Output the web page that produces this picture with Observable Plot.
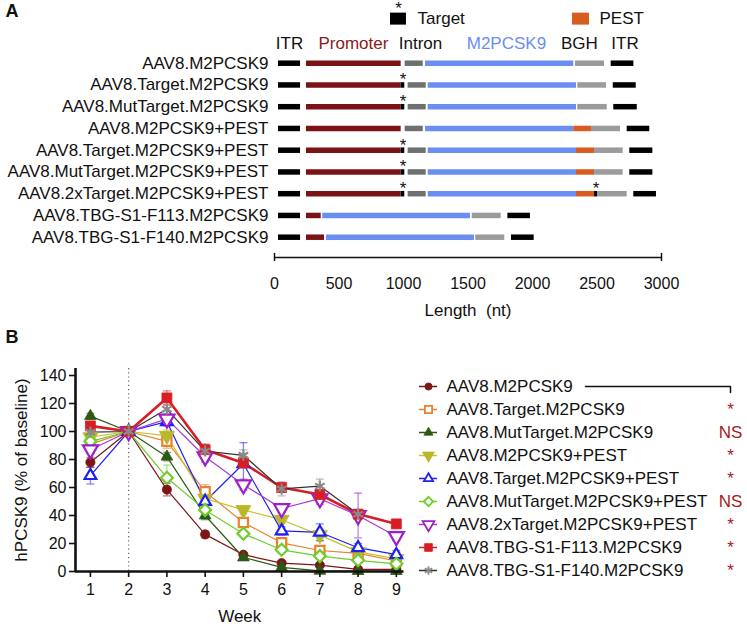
<!DOCTYPE html>
<html><head><meta charset="utf-8">
<script src="https://cdn.jsdelivr.net/npm/d3@7"></script>
<script src="https://cdn.jsdelivr.net/npm/@observablehq/plot@0.6"></script>
<style>
body{margin:0;background:#fff;}
#wrap{position:relative;width:747px;height:630px;overflow:hidden;background:#fff;}
#wrap > *{position:absolute;margin:0;}
#wrap g[aria-label="x-axis tick label"] text,
#wrap g[aria-label="y-axis tick label"] text{font-size:16px !important;}
</style></head><body><div id="wrap"></div>
<script>
const FONT = '"Liberation Sans", Arial, Helvetica, sans-serif';

// ---------- Panel A data ----------
const constructs = [
  "AAV8.M2PCSK9","AAV8.Target.M2PCSK9","AAV8.MutTarget.M2PCSK9",
  "AAV8.M2PCSK9+PEST","AAV8.Target.M2PCSK9+PEST","AAV8.MutTarget.M2PCSK9+PEST",
  "AAV8.2xTarget.M2PCSK9+PEST","AAV8.TBG-S1-F113.M2PCSK9","AAV8.TBG-S1-F140.M2PCSK9"
];
const parts = ["ITR","Promoter","Intron","M2PCSK9","BGH","PEST","Target"];
const partColors = ["#000000","#7a1216","#6f6f6f","#6b8ef3","#9b9b9d","#d85b20","#000000"];
// [construct index, element, start nt, end nt]
const segments = [
  [0,"ITR",31,202],[0,"Promoter",248,982],[0,"Intron",1013,1153],[0,"M2PCSK9",1171,2320],[0,"BGH",2333,2558],[0,"ITR",2610,2786],
  [1,"ITR",31,202],[1,"Promoter",248,982],[1,"Target",982,1010],[1,"Intron",1036,1176],[1,"M2PCSK9",1191,2341],[1,"BGH",2351,2574],[1,"ITR",2626,2804],
  [2,"ITR",31,202],[2,"Promoter",248,982],[2,"Target",982,1010],[2,"Intron",1036,1176],[2,"M2PCSK9",1191,2341],[2,"BGH",2351,2579],[2,"ITR",2630,2812],
  [3,"ITR",31,202],[3,"Promoter",248,982],[3,"Intron",1013,1153],[3,"M2PCSK9",1171,2320],[3,"PEST",2320,2457],[3,"BGH",2457,2682],[3,"ITR",2734,2909],
  [4,"ITR",31,202],[4,"Promoter",248,982],[4,"Target",982,1010],[4,"Intron",1036,1176],[4,"M2PCSK9",1191,2341],[4,"PEST",2341,2481],[4,"BGH",2481,2703],[4,"ITR",2754,2933],
  [5,"ITR",31,202],[5,"Promoter",248,982],[5,"Target",982,1010],[5,"Intron",1036,1176],[5,"M2PCSK9",1191,2341],[5,"PEST",2341,2481],[5,"BGH",2481,2703],[5,"ITR",2754,2933],
  [6,"ITR",31,202],[6,"Promoter",248,982],[6,"Target",982,1010],[6,"Intron",1036,1176],[6,"M2PCSK9",1191,2341],[6,"PEST",2341,2481],[6,"Target",2481,2504],[6,"BGH",2504,2734],[6,"ITR",2785,2961],
  [7,"ITR",31,202],[7,"Promoter",248,362],[7,"M2PCSK9",374,1519],[7,"BGH",1533,1757],[7,"ITR",1809,1984],
  [8,"ITR",31,202],[8,"Promoter",248,388],[8,"M2PCSK9",403,1550],[8,"BGH",1560,1785],[8,"ITR",1837,2013]
];
const lengthTicks = [0,500,1000,1500,2000,2500,3000];

// ---------- Panel B data ----------
const weeks = [1,2,3,4,5,6,7,8,9];
const seriesNames = [
  "AAV8.M2PCSK9","AAV8.Target.M2PCSK9","AAV8.MutTarget.M2PCSK9","AAV8.M2PCSK9+PEST",
  "AAV8.Target.M2PCSK9+PEST","AAV8.MutTarget.M2PCSK9+PEST","AAV8.2xTarget.M2PCSK9+PEST",
  "AAV8.TBG-S1-F113.M2PCSK9","AAV8.TBG-S1-F140.M2PCSK9"
];
const vM2       = [78, 100, 58.5, 26.5, 12, 6, 4.5, 1.5, 1.5];
const vTarget   = [91, 100, 93, 57, 35, 20.5, 15, 13, 7.5];
const vMut      = [111, 100, 82, 40, 10, 3, 0.5, 0.3, 0.3];
const vPest     = [96, 100, 97, 52, 44, 37, 26, 14, 9];
const vTgtPest  = [68.5, 100, 107, 50, 77, 29, 28, 17, 12];
const vMutPest  = [93, 100, 67, 44, 27, 15.5, 11, 8, 5.5];
const v2xPest   = [87, 100, 109, 82, 62, 45, 52, 40, 25];
const vF113     = [104, 100, 124, 87, 77.5, 60, 55, 41, 34];
const vF140     = [99.5, 100, 116, 86, 83, 59, 61, 41, null];
const eM2       = [3.5, 0, 4.5, 2.5, 1.5, 1, 1, 0.5, 0.5];
const eTarget   = [3, 0, 5, 5, 3, 3, 2, 2, 2];
const eMut      = [2, 0, 3, 3, 1, 0.5, 0.3, 0.2, 0.2];
const ePest     = [3, 0, 4, 4, 3, 3, 4, 2, 2];
const eTgtPest  = [6, 0, 3, 5, 15, 3, 6, 3, 3];
const eMutPest  = [3, 0, 9, 3, 2, 2, 2, 2, 1];
const e2xPest   = [3, 0, 3, 4, 4, 3, 4, 16, 3];
const eF113     = [2, 0, 5, 4, 3, 3, 3, 3, 2];
const eF140     = [2, 0, 3, 3, 4, 5, 5, 3, null];
const significance = ["", "*", "NS", "*", "*", "NS", "*", "*", "*"];
const weekTicks = [1,2,3,4,5,6,7,8,9];
const pctTicks = [0,20,40,60,80,100,120,140];

const values = [vM2,vTarget,vMut,vPest,vTgtPest,vMutPest,v2xPest,vF113,vF140];
const errors = [eM2,eTarget,eMut,ePest,eTgtPest,eMutPest,e2xPest,eF113,eF140];

// styles
const sColors = ["#7d1517","#e8822e","#2c5a14","#b8b82a","#2020f0","#6fcd2b","#a020c8","#d81e24","#8a8a8a"];
const lColors = ["#7d1517","#e8822e","#2c5a14","#c4c42e","#2020f0","#6fcd2b","#a83ad0","#d81e24","#333333"];
const triDown = {draw(ctx, size){ const y = -Math.sqrt(size/(Math.sqrt(3)*3)); ctx.moveTo(0,-y*2); ctx.lineTo(-Math.sqrt(3)*y, y); ctx.lineTo(Math.sqrt(3)*y, y); ctx.closePath(); }};
const capSym = {draw(ctx){ ctx.moveTo(-4,0); ctx.lineTo(4,0); }};
const symbols = ["circle","square","triangle2",triDown,"triangle2","diamond2",triDown,"square","asterisk"];
const filled = [true,false,true,true,false,false,false,true,true];
const radii = [4.6,5.2,5.6,5.6,5.6,5.4,5.6,5.6,5.2];

// ---------- Build panel A ----------
const segData = segments.map(([r,p,s,e]) => ({row:r, part:p, start:s, end:e}));
const stars = segData.filter(d => d.part === "Target").map(d => ({row:d.row, x:(d.start+d.end)/2}));

const plotA = Plot.plot({
  width: 747, height: 320,
  marginLeft: 274, marginRight: 86, marginTop: 0, marginBottom: 63,
  style: {fontFamily: FONT, fontSize: "17px", color: "#111", background: "transparent", overflow: "visible"},
  x: {domain: [0, 3000]},
  y: {domain: [0, 8], range: [62.7, 236.7], axis: null},
  color: {domain: parts, range: partColors},
  marks: [
    Plot.ruleY(segData, {y: "row", x1: "start", x2: "end", stroke: "part", strokeWidth: 5.5}),
    Plot.text(stars, {x: "x", y: "row", text: () => "*", dy: -5, fontSize: 17, fill: "#111"}),
    Plot.text(constructs, {y: (d, i) => i, frameAnchor: "left", textAnchor: "end", dx: -6, fontSize: 17, fill: "#111"}),
    Plot.axisX({ticks: lengthTicks, tickFormat: d => String(d), tickSize: 0, tickPadding: 20, fontSize: 16, label: null}),
    Plot.ruleY([8.93], {x1: 0, x2: 3000, strokeWidth: 1.5, stroke: "#111"}),
    Plot.ruleX([0, 3000], {y1: 8.746, y2: 9.114, strokeWidth: 1.5, stroke: "#111"}),
    Plot.text(["Length\u00a0 (nt)"], {x: 1500, y: 11.37, fontSize: 17, fill: "#111"}),
    // header element labels
    Plot.text([
      {t:"ITR", x:116, c:"#111", w:"normal"},
      {t:"Promoter", x:612, c:"#8b1a1a", w:"normal"},
      {t:"Intron", x:1132, c:"#111", w:"normal"},
      {t:"M2PCSK9", x:1798, c:"#6b8ef3", w:"bold"},
      {t:"BGH", x:2364, c:"#111", w:"normal"},
      {t:"ITR", x:2717, c:"#111", w:"normal"}
    ], {x: "x", y: () => -0.9, text: "t", fill: "c", fontWeight: "w", fontSize: 17}),
    // top legend
    Plot.ruleY([{y:-2.05, x1:899, x2:1023, c:"#000"}, {y:-2.05, x1:2310, x2:2442, c:"#d85b20"}], {y:"y", x1:"x1", x2:"x2", stroke:"c", strokeWidth: 12}),
    Plot.text(["*"], {x: () => 961, y: () => -2.05, dy: -10, fontSize: 17, fill: "#111"}),
    Plot.text([{t:"Target", x:1109}, {t:"PEST", x:2519}], {x:"x", y: () => -2.05, text:"t", textAnchor:"start", fontSize: 17, fill:"#111"}),
    Plot.text(["A"], {frameAnchor: "top-left", dx: -269, dy: 4, textAnchor: "start", lineAnchor: "top", fontWeight: "bold", fontSize: 18, fill: "#111"})
  ]
});
plotA.style.left = "0px"; plotA.style.top = "0px";
document.getElementById("wrap").appendChild(plotA);

// ---------- Build panel B ----------
const tbl = [];
seriesNames.forEach((name, si) => weeks.forEach((w, wi) => {
  const v = values[si][wi];
  if (v != null) tbl.push({name, si, week: w, v, e: errors[si][wi] || 0});
}));
const errTbl = tbl.filter(d => d.e > 0);

const marksB = [
  Plot.ruleX([2], {stroke: "#666", strokeDasharray: "1.2,3", strokeWidth: 1.2}),
  Plot.ruleX(errTbl, {x: "week", y1: d => d.v - d.e, y2: d => d.v + d.e, stroke: d => sColors[d.si], strokeOpacity: 0.55, strokeWidth: 1.3}),
  Plot.dot(errTbl, {x: "week", y: d => d.v + d.e, symbol: capSym, stroke: d => sColors[d.si], strokeOpacity: 0.55, strokeWidth: 1.3}),
  Plot.dot(errTbl, {x: "week", y: d => d.v - d.e, symbol: capSym, stroke: d => sColors[d.si], strokeOpacity: 0.55, strokeWidth: 1.3})
];
seriesNames.forEach((name, si) => {
  marksB.push(Plot.line(tbl.filter(d => d.si === si), {x: "week", y: "v", stroke: lColors[si], strokeWidth: si === 7 ? 2.6 : 1.2}));
});
seriesNames.forEach((name, si) => {
  marksB.push(Plot.dot(tbl.filter(d => d.si === si), {
    x: "week", y: "v", symbol: symbols[si], r: radii[si],
    fill: filled[si] ? sColors[si] : "white", stroke: sColors[si],
    strokeWidth: filled[si] ? (si === 8 ? 2.2 : 0.8) : 2.2
  }));
});
marksB.push(
  Plot.ruleY([0], {stroke: "#111", strokeWidth: 2.6}),
  Plot.ruleX([0.61], {stroke: "#111", strokeWidth: 2.6}),
  Plot.axisX({ticks: weekTicks, tickSize: 6, tickPadding: 6, fontSize: 16, label: null, strokeWidth: 1.6}),
  Plot.axisY({ticks: pctTicks, tickSize: 6, tickPadding: 3, fontSize: 16, label: null, strokeWidth: 1.6}),
  Plot.text(["Week"], {frameAnchor: "bottom", dy: 50, fontSize: 17, fill: "#111"}),
  Plot.text(["hPCSK9 (% of baseline)"], {frameAnchor: "left", textAnchor: "middle", lineAnchor: "middle", rotate: -90, dx: -54, fontSize: 17, fill: "#111"}),
  Plot.text(["B"], {frameAnchor: "top-left", dx: -70, dy: -38, textAnchor: "start", lineAnchor: "top", fontWeight: "bold", fontSize: 18, fill: "#111"})
);

const plotB = Plot.plot({
  width: 747, height: 310,
  marginLeft: 75, marginRight: 343.5, marginTop: 48, marginBottom: 59,
  style: {fontFamily: FONT, fontSize: "16px", color: "#111", background: "transparent", overflow: "visible"},
  x: {domain: [0.61, 9.2]},
  y: {domain: [0, 145]},
  marks: marksB
});
plotB.style.left = "0px"; plotB.style.top = "320px";
document.getElementById("wrap").appendChild(plotB);

// ---------- Legend for panel B ----------
const legRows = seriesNames.map((n, i) => ({n, i, y: 26 + i * 23}));
const legMarks = [
  Plot.ruleY(legRows, {y: "y", x1: () => 19, x2: () => 37, stroke: d => lColors[d.i], strokeWidth: 1.5}),
  Plot.text(legRows, {x: () => 46, y: "y", text: "n", textAnchor: "start", fontSize: 17, fill: "#111"}),
  Plot.text(legRows, {x: () => 330, y: "y", text: d => significance[d.i], fontSize: 17, fill: "#a31c1c"}),
  Plot.line([[185, 26], [330, 26], [330, 32]], {x: d => d[0], y: d => d[1], stroke: "#111", strokeWidth: 1.5})
];
legRows.forEach(d => {
  legMarks.push(Plot.dot([d], {x: () => 28, y: "y", symbol: symbols[d.i], r: radii[d.i] * 0.78,
    fill: filled[d.i] ? sColors[d.i] : "white", stroke: sColors[d.i], strokeWidth: filled[d.i] ? (d.i === 8 ? 1.8 : 0.8) : 1.8}));
});
const legend = Plot.plot({
  width: 347, height: 230, margin: 0,
  style: {fontFamily: FONT, fontSize: "17px", color: "#111", background: "transparent", overflow: "visible"},
  x: {type: "identity", axis: null},
  y: {type: "identity", axis: null},
  marks: legMarks
});
legend.style.left = "400px"; legend.style.top = "360px";
document.getElementById("wrap").appendChild(legend);
</script>
</body></html>
